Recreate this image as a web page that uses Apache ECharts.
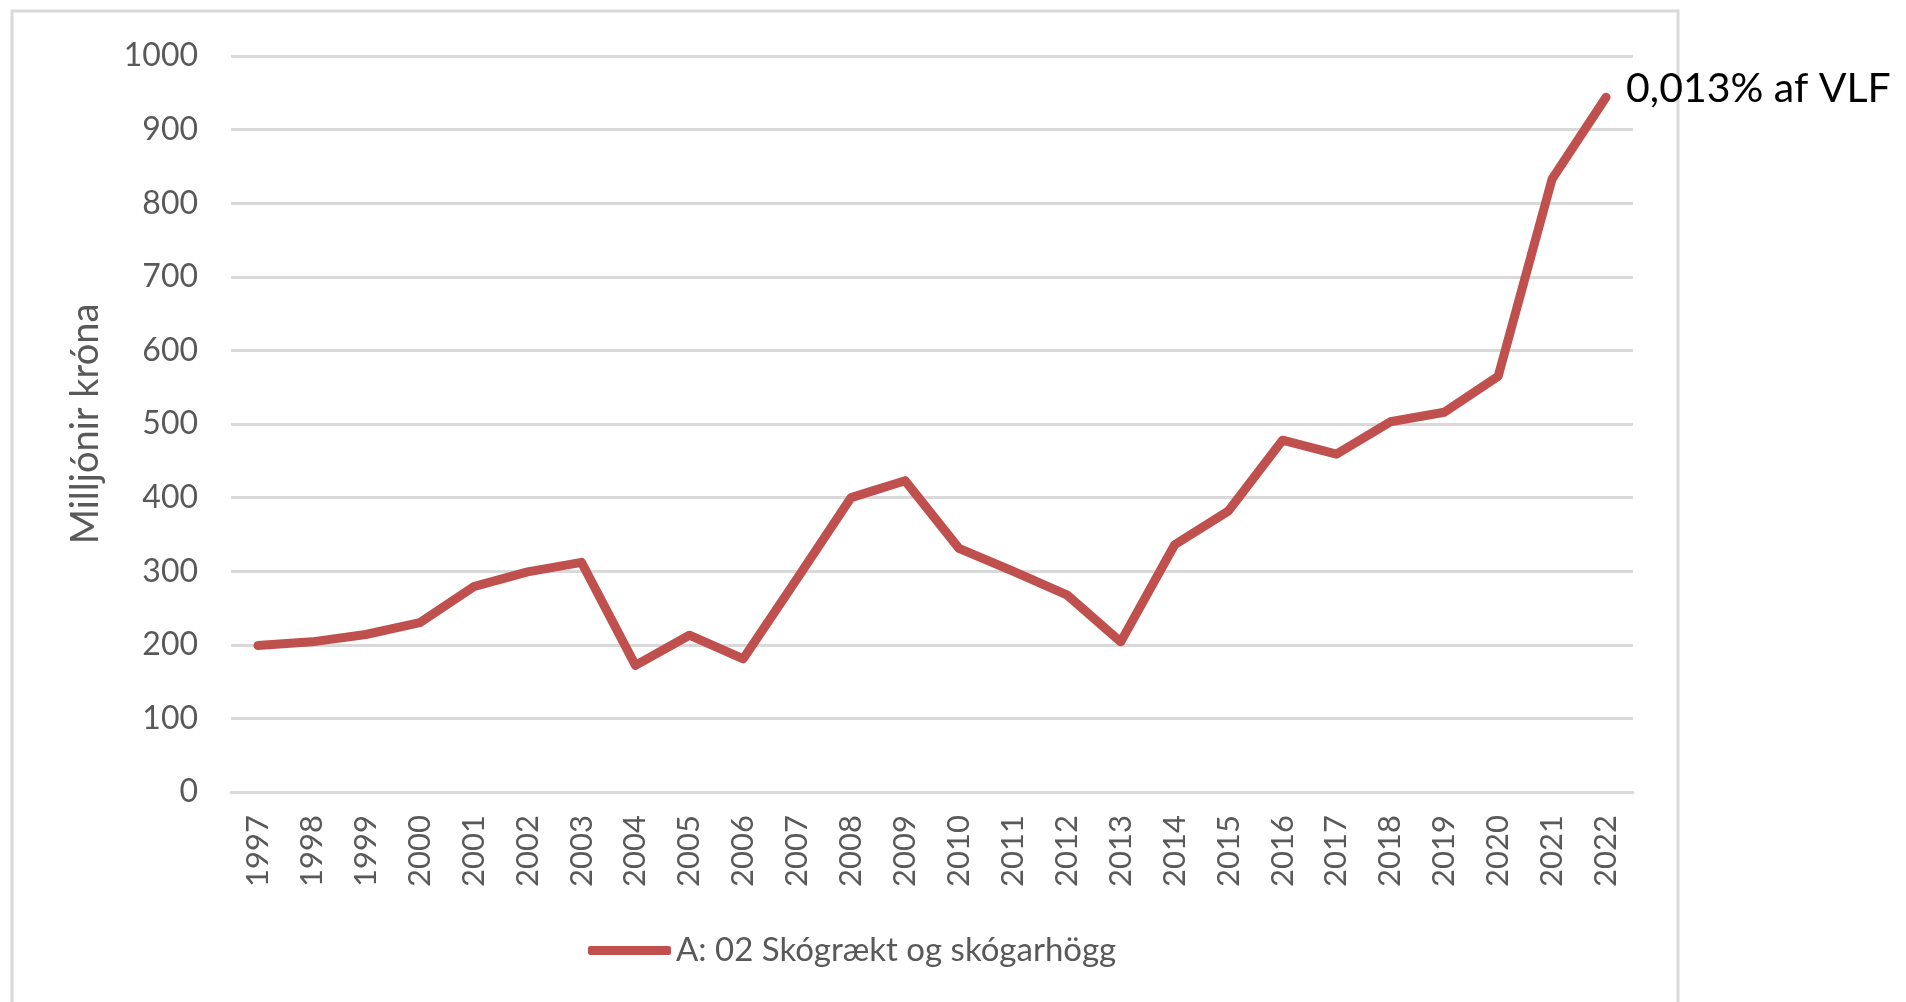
<!DOCTYPE html>
<html>
<head>
<meta charset="utf-8">
<script src="https://cdn.jsdelivr.net/npm/echarts@6/dist/echarts.min.js"></script>
<style>
html,body{margin:0;padding:0;background:#fff;}
#c{width:1906px;height:1002px;}
</style>
</head>
<body>
<div id="c"></div>
<script>
const years = ['1997','1998','1999','2000','2001','2002','2003','2004','2005','2006','2007','2008','2009','2010','2011','2012','2013','2014','2015','2016','2017','2018','2019','2020','2021','2022'];
const values = [199,204,214,230,279,299,312,172,213,181,290,400,423,331,300,268,204,336,382,478,459,503,516,565,833,944];
const seriesName = 'A: 02 Skógrækt og skógarhögg';
const yAxisName = 'Milljónir króna';
const endNote = '0,013% af VLF';
const yMin = 0, yMax = 1000, yStep = 100;

const chart = echarts.init(document.getElementById('c'));
const FONT = 'Lato';
chart.setOption({
  animation: false,
  backgroundColor: '#fff',
  textStyle: { fontFamily: FONT },
  graphic: [{
    type: 'rect',
    shape: { x: 12, y: 11, width: 1666, height: 1010 },
    style: { fill: 'none', stroke: '#D9D9D9', lineWidth: 3 },
    silent: true
  }],
  grid: { left: 231, right: 273, top: 56, bottom: 210, containLabel: false },
  legend: {
    data: [seriesName],
    left: 583,
    top: 929,
    itemWidth: 83,
    itemHeight: 9,
    icon: 'roundRect',
    textStyle: { color: '#595959', fontSize: 33, fontFamily: FONT }
  },
  xAxis: {
    type: 'category',
    data: years,
    boundaryGap: true,
    axisLine: { show: true, lineStyle: { color: '#D9D9D9', width: 3 } },
    axisTick: { show: false },
    axisLabel: { rotate: 90, color: '#595959', fontSize: 31, margin: 23, fontFamily: FONT, interval: 0 }
  },
  yAxis: {
    type: 'value',
    min: yMin, max: yMax, interval: yStep,
    name: yAxisName,
    nameLocation: 'middle',
    nameGap: 126,
    nameRotate: 90,
    nameTextStyle: { color: '#595959', fontSize: 38, fontFamily: FONT },
    axisLine: { show: false },
    axisTick: { show: false },
    axisLabel: { color: '#595959', fontSize: 32, margin: 33, fontFamily: FONT, formatter: v => String(v) },
    splitLine: { lineStyle: { color: '#D9D9D9', width: 3 } }
  },
  series: [{
    name: seriesName,
    type: 'line',
    data: values,
    showSymbol: false,
    symbol: 'none',
    itemStyle: { color: '#C0504D' },
    lineStyle: { color: '#C0504D', width: 9, cap: 'round', join: 'round' },
    endLabel: {
      show: true,
      formatter: endNote,
      color: '#000',
      fontSize: 41,
      fontFamily: FONT,
      distance: 20,
      offset: [0, -8]
    }
  }]
});
</script>
</body>
</html>
